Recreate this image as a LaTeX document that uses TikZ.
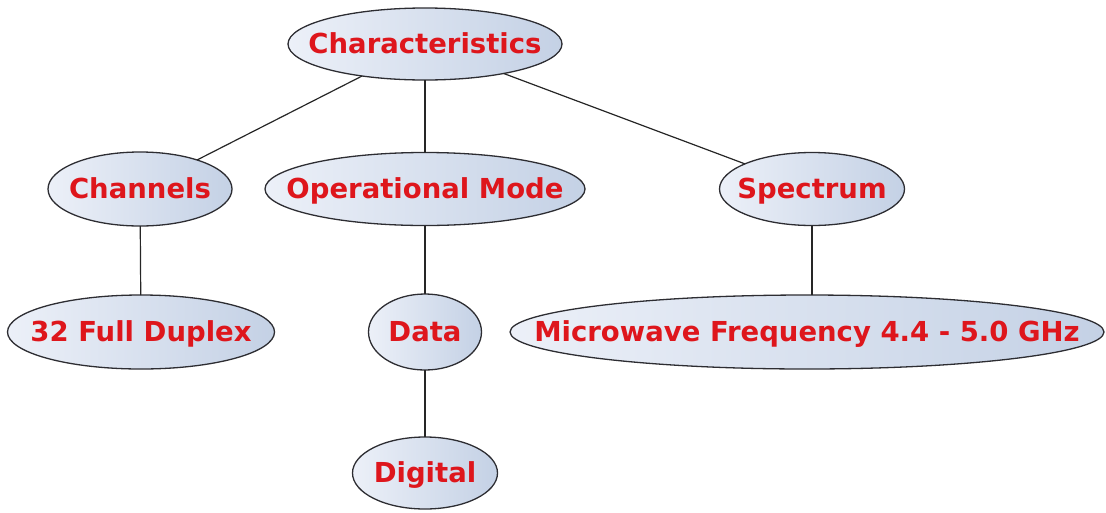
\documentclass[tikz,border=0pt]{standalone}
\usepackage{fontspec}
\setmainfont{DejaVu Sans}
\usetikzlibrary{shapes.geometric}
\definecolor{txtred}{RGB}{222,22,28}
\definecolor{fillL}{RGB}{236,240,248}
\definecolor{fillR}{RGB}{196,209,229}
\definecolor{edgecol}{RGB}{45,45,50}
\newcommand{\lbltxt}[1]{\raisebox{-0.36em}[0pt][0pt]{\makebox[0pt]{#1}}}
\tikzset{
  bubble/.style={ellipse, draw=edgecol, line width=1.3pt, left color=fillL, right color=fillR,
    inner sep=0pt, outer sep=0pt, text=txtred, font=\fontsize{27.5}{30}\selectfont\bfseries},
  link/.style={draw=black!85, line width=1.2pt}
}
\begin{document}
\begin{tikzpicture}[x=1pt,y=-1pt]
\useasboundingbox (0,0) rectangle (1106,512);
\node[bubble, minimum width=274pt, minimum height=72pt] (char) at (425,44) {\lbltxt{Characteristics}};
\node[bubble, minimum width=184pt, minimum height=74pt] (chan) at (140,189) {\lbltxt{Channels}};
\node[bubble, minimum width=320pt, minimum height=73pt] (op) at (425,189) {\lbltxt{Operational Mode}};
\node[bubble, minimum width=185pt, minimum height=73pt] (spec) at (812,189) {\lbltxt{Spectrum}};
\node[bubble, minimum width=267pt, minimum height=74pt] (dup) at (141,332) {\lbltxt{32 Full Duplex}};
\node[bubble, minimum width=113pt, minimum height=76pt] (data) at (425,332) {\lbltxt{Data}};
\node[bubble, minimum width=594pt, minimum height=74pt] (micro) at (807,332) {\lbltxt{Microwave Frequency 4.4 - 5.0 GHz}};
\node[bubble, minimum width=145pt, minimum height=72pt] (dig) at (425,473) {\lbltxt{Digital}};
\draw[link] (char) -- (chan);
\draw[link] (char) -- (op);
\draw[link] (char) -- (spec);
\draw[link] (chan) -- (dup);
\draw[link] (op) -- (data);
\draw[link] (data) -- (dig);
\draw[link] (spec.south) -- (spec.south |- micro.north);
\end{tikzpicture}
\end{document}
